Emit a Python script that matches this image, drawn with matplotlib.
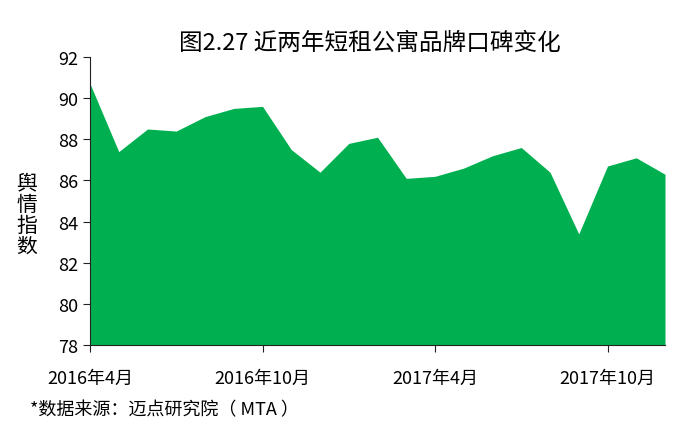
import matplotlib
matplotlib.use("Agg")
import matplotlib.pyplot as plt

plt.rcParams['font.family'] = ['Noto Sans CJK SC', 'DejaVu Sans']

# monthly index, 2016-04 .. 2017-12
months = list(range(21))
scores = [90.7, 87.4, 88.5, 88.4, 89.1, 89.5, 89.6, 87.5, 86.4, 87.8, 88.1,
          86.1, 86.2, 86.6, 87.2, 87.6, 86.4, 83.4, 86.7, 87.1, 86.3]
tick_pos = [0, 6, 12, 18]
tick_labels = ['2016年4月', '2016年10月', '2017年4月', '2017年10月']
y_ticks = [78, 80, 82, 84, 86, 88, 90, 92]

fig = plt.figure(figsize=(6.93, 4.39), dpi=100)
ax = fig.add_axes([0.1299, 0.2118, 0.8297, 0.6561])

ax.fill_between(months, scores, 78, color='#00B050', linewidth=0)
ax.set_xlim(0, 20)
ax.set_ylim(78, 92)
ax.set_yticks(y_ticks)
ax.set_xticks(tick_pos)
ax.set_xticklabels(tick_labels)
ax.tick_params(axis='both', direction='out', length=5, labelsize=13, color='#222222')
ax.tick_params(axis='x', pad=12)
ax.spines['top'].set_visible(False)
ax.spines['right'].set_visible(False)
ax.spines['left'].set_color('#222222')
ax.spines['bottom'].set_color('#222222')

fig.text(0.534, 0.9, '图2.27 近两年短租公寓品牌口碑变化', ha='center', va='center', fontsize=17)
fig.text(0.039, 0.51, '\n'.join('舆情指数'), ha='center', va='center', fontsize=15, linespacing=0.95)
fig.text(0.043, 0.065, '*数据来源：迈点研究院（ MTA ）', ha='left', va='center', fontsize=13)

fig.savefig('out.png', dpi=100)
